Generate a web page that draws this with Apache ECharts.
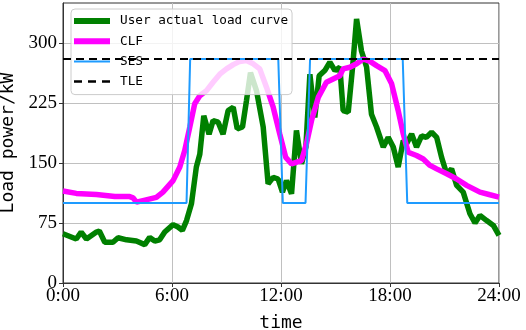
<!DOCTYPE html>
<html><head><meta charset="utf-8">
<script src="https://cdn.jsdelivr.net/npm/echarts@6/dist/echarts.min.js"></script>
<style>html,body{margin:0;padding:0;background:#fff}#c{width:526px;height:330px}</style>
</head><body><div id="c"></div>
<script>
// hours of day and load (kW)
const greenHours = [0,0.73,1.0,1.29,1.84,2.0,2.3,2.75,3.03,3.5,4.04,4.5,4.77,5.05,5.32,5.6,6.06,6.33,6.57,6.8,7.07,7.34,7.53,7.75,8.04,8.26,8.54,8.81,9.09,9.37,9.59,9.88,10.1,10.32,10.65,11.02,11.29,11.57,11.84,12.08,12.3,12.58,12.85,13.13,13.37,13.59,13.86,14.1,14.41,14.69,14.97,15.24,15.42,15.7,15.94,16.16,16.43,16.71,16.98,17.26,17.63,17.9,18.18,18.45,18.73,18.91,19.19,19.46,19.74,20.0,20.29,20.57,20.84,21.12,21.39,21.67,22.03,22.4,22.68,22.95,23.32,23.69,24];
const greenValues = [61.6,55,63.7,55,63.7,65,51,51,56.6,54,52.4,48,57,52.4,54,63.7,73,70,65.7,78,99,145,161,209,186,203,201,186,215.6,219.7,192.7,195,228,263,240.5,195,124,132,130,113.6,128,111.5,190.6,149,170,261,207,259,265.5,276,265.5,269.7,215.6,213.5,269.7,330,290,270,211,195,170,182,170,145,178,174,186.4,170,184,182,188.5,182,157,136.5,142.7,122,113.6,86.6,75,84.5,78,72,59.5];
const clfHours = [0,0.73,1.84,2.85,3.67,3.86,4.04,4.4,5.14,5.5,6.06,6.43,6.7,6.98,7.25,7.53,7.9,8.26,8.63,9.0,9.37,9.73,10.1,10.47,10.83,11.2,11.57,11.93,12.26,12.58,13.13,13.4,13.68,14.05,14.5,14.87,15.24,15.42,15.79,16.16,16.53,16.9,17.26,17.72,18.09,18.45,18.73,19.0,19.46,19.83,20.2,20.57,21.12,21.67,22.22,22.95,23.5,24];
const clfValues = [115,112,110.7,108,108,106.5,101,103,107,113.6,128,145,165.6,195,224,234,240.5,251,261,267.6,273,277,278,274,267.6,244.7,219.7,186.4,157,149,153,174,203,232,251,255,259,267.6,269.7,274,280,277,271.7,265.5,249,215.6,186.4,163.5,159.4,155,147,142.7,136.5,130,122,113.6,110.3,107.4];
const sesHours = [0,6.8,7.0,11.85,12.1,13.35,13.6,18.7,18.95,24];
const sesValues = [100,100,280,280,100,100,280,280,100,100];
const tleHours = [0,24];
const tleValues = [280,280];
const yTicks = [0,75,150,225,300];
const seriesNames = ['User actual load curve','CLF','SES','TLE'];

const zip = (a,b)=>a.map((x,i)=>[x,b[i]]);
const chart = echarts.init(document.getElementById('c'));
const mono = 'DejaVu Sans Mono';
const thick = 'path://M0,0H36V6H0Z';
const thin = 'path://M0,0H36V2H0Z';
const dash = 'path://M0,0H8V2.5H0Z M14,0H22V2.5H14Z M28,0H36V2.5H28Z';
chart.setOption({
  animation:false,
  grid:{left:63,right:27,top:3,bottom:47,show:true,borderColor:'#333',borderWidth:1,
    outerBoundsMode:'none',containLabel:false},
  legend:{
    data:[
      {name:seriesNames[0],icon:thick},
      {name:seriesNames[1],icon:thick},
      {name:seriesNames[2],icon:thin},
      {name:seriesNames[3],icon:dash}
    ], orient:'vertical', left:71, top:9,
    backgroundColor:'rgba(255,255,255,0.8)', borderColor:'#ccc', borderWidth:1, borderRadius:4,
    padding:[5,4,6,3], itemWidth:36, itemHeight:14, itemGap:6.2,
    textStyle:{fontFamily:mono, fontSize:12.7, lineHeight:14, color:'#000', padding:[0,0,0,5]}
  },
  xAxis:{type:'value',min:0,max:24,interval:6,
    name:'time',nameLocation:'middle',nameGap:31,
    nameTextStyle:{fontFamily:mono,fontSize:18,color:'#000'},
    axisLine:{show:true,lineStyle:{color:'#333'}},
    axisTick:{show:true,inside:false,length:4,lineStyle:{color:'#333'}},
    axisLabel:{fontFamily:'Liberation Serif',fontSize:19,color:'#000',margin:4,
      formatter:v=>v+':00'},
    splitLine:{show:true,lineStyle:{color:'#c0c0c0',width:1}}},
  yAxis:{type:'value',min:0,max:350,interval:75,
    name:'Load power/kW',nameLocation:'middle',nameGap:44,
    nameTextStyle:{fontFamily:mono,fontSize:18,color:'#000'},
    axisLine:{show:true,lineStyle:{color:'#333'}},
    axisTick:{show:true,inside:false,length:4,customValues:yTicks,lineStyle:{color:'#333'}},
    axisLabel:{fontFamily:'Liberation Serif',fontSize:19,color:'#000',margin:6,customValues:yTicks},
    splitLine:{show:true,lineStyle:{color:'#c0c0c0',width:1}}},
  series:[
    {name:seriesNames[0],type:'line',data:zip(greenHours,greenValues),showSymbol:false,symbol:'none',
      lineStyle:{color:'#008000',width:5.5},itemStyle:{color:'#008000'},z:2},
    {name:seriesNames[1],type:'line',data:zip(clfHours,clfValues),showSymbol:false,symbol:'none',
      lineStyle:{color:'#ff00ff',width:5.5},itemStyle:{color:'#ff00ff'},z:3},
    {name:seriesNames[2],type:'line',data:zip(sesHours,sesValues),showSymbol:false,symbol:'none',
      lineStyle:{color:'#1e9bff',width:2},itemStyle:{color:'#1e9bff'},z:4},
    {name:seriesNames[3],type:'line',data:zip(tleHours,tleValues),showSymbol:false,symbol:'none',
      lineStyle:{color:'#000',width:2,type:[8,5]},itemStyle:{color:'#000'},z:5}
  ]
});
</script></body></html>
